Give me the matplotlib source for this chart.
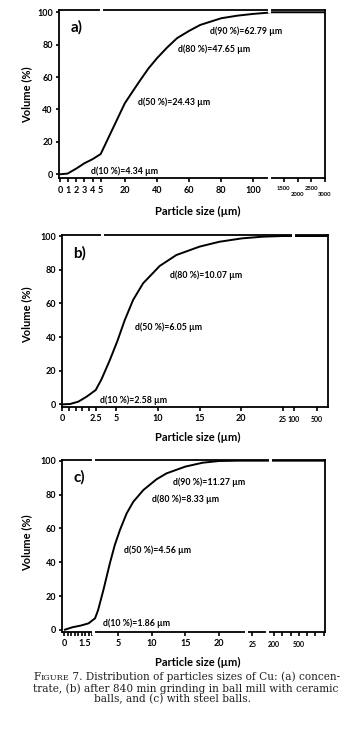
import numpy as np
import matplotlib.pyplot as plt

plt.rcParams["font.family"] = ["Lato", "DejaVu Sans"]
plt.rcParams["font.weight"] = "bold"

W, H = 353, 729

# ---- data (particle size in um, cumulative volume in %) ----
a_size = [0, 0.93, 2.06, 3.0, 4.0, 5.0, 13.1, 20, 24.4, 29.7, 34.8, 40, 46.3, 52.5,
          60, 67, 80, 90, 100, 110, 1000, 3000]
a_vol = [0, 0.4, 3.7, 6.8, 9.3, 12.5, 29.4, 43.8, 50.4, 58.2, 65.4, 71.6, 78.2, 84,
         88.5, 92.2, 96.3, 97.9, 99, 99.8, 100, 100]

b_size = [0, 0.58, 1.2, 1.83, 2.5, 3.2, 4.2, 5.1, 6.0, 7.0, 8.2, 10.2, 12.2, 15,
          17.4, 20.1, 22.6, 25, 100, 500, 1000]
b_vol = [0, 0.2, 1.6, 4.6, 8.5, 14.9, 26.3, 37.5, 50.1, 62, 71.9, 82.2, 88.7, 93.7,
         96.6, 98.6, 99.6, 100, 100, 100, 100]

c_size = [0, 0.6, 1.2, 1.75, 2.35, 2.7, 3.3, 4.04, 4.6, 5.25, 6.25, 7.25, 8.75, 10.7,
          12.2, 15, 17.6, 20, 23, 200, 818]
c_vol = [0, 1.6, 2.6, 3.9, 6.9, 11.8, 23.6, 39.4, 50.2, 59.1, 68.9, 75.8, 82.7, 89,
         92.5, 96.5, 98.8, 99.8, 100, 100, 100]

a_notes = ["d(90 %)=62.79 µm", "d(80 %)=47.65 µm", "d(50 %)=24.43 µm", "d(10 %)=4.34 µm"]
b_notes = ["d(80 %)=10.07 µm", "d(50 %)=6.05 µm", "d(10 %)=2.58 µm"]
c_notes = ["d(90 %)=11.27 µm", "d(80 %)=8.33 µm", "d(50 %)=4.56 µm", "d(10 %)=1.86 µm"]

a_ticks = [0, 1, 2, 3, 4, 5, 20, 40, 60, 80, 100]
a_far = [1500, 2000, 2500, 3000]
b_ticks = [0, 2.5, 5, 10, 15, 20]
b_minor = [0.5, 1, 1.5, 2]
b_far = [25, 100, 500]
c_ticks = [0, 1.5, 5, 10, 15, 20]
c_minor = [0.25, 0.5, 0.75, 1, 1.25, 1.75, 2, 300, 400, 600, 700, 800]
c_far = [25, 200, 500]

yticks = [0, 20, 40, 60, 80, 100]


def px(x, y):
    return x / W, 1 - y / H


def piecewise(vals, pos):
    return (lambda v: np.interp(v, vals, pos), lambda p: np.interp(p, pos, vals))


fig = plt.figure(figsize=(W / 100, H / 100), dpi=100)
bg = fig.add_axes([0, 0, 1, 1])
bg.axis("off")

panels = [
    # box (left, top, right, bottom) in px, scale breakpoints, xlim, ylim
    dict(box=(59, 10, 325, 178.3), vals=[-0.12, 0, 5, 110, 1000, 3000],
         pos=[0, 1, 41.7, 210.4, 211, 266], xlim=(-0.12, 3000), ylim=(-2.5, 101.4),
         x=a_size, y=a_vol, ticks=a_ticks, minor=[], far=a_far,
         far_dy=[10.5, 16, 10.5, 16], far_fs=4.2,
         notes=a_notes, note_xy=[(210, 31.7), (177.7, 49.3), (137.7, 102.7), (90.7, 171.7)],
         tag="a)", tag_xy=(71, 27), top_gaps=[5, 111], bot_gaps=[111],
         xlab_y=211, ylab_y=95),
    dict(box=(62.3, 235, 327.7, 406.7), vals=[0, 2.5, 25, 100, 500, 1000],
         pos=[0, 33.4, 220.4, 231.7, 254.4, 265.4], xlim=(0, 1000), ylim=(-1.4, 100.6),
         x=b_size, y=b_vol, ticks=b_ticks, minor=b_minor, far=b_far,
         far_dy=[12.5, 12.5, 12.5], far_fs=5,
         notes=b_notes, note_xy=[(170, 275), (135, 327.7), (100, 400)],
         tag="b)", tag_xy=(73, 253), top_gaps=[3.2, 95], bot_gaps=[],
         xlab_y=437, ylab_y=315),
    dict(box=(62.3, 460, 325, 632), vals=[-0.12, 0, 2, 5, 25, 200, 818],
         pos=[0, 1.7, 29.7, 56, 190, 211.7, 262.7], xlim=(-0.12, 818), ylim=(-1.2, 100.4),
         x=c_size, y=c_vol, ticks=c_ticks, minor=c_minor, far=c_far,
         far_dy=[12.5, 12.5, 12.5], far_fs=5,
         notes=c_notes, note_xy=[(173.3, 482.7), (151.7, 499.3), (124.3, 550), (103.3, 623.3)],
         tag="c)", tag_xy=(74, 477), top_gaps=[2.1, 165], bot_gaps=[2.1, 24, 140],
         xlab_y=662, ylab_y=543),
]

for p in panels:
    l, t, r, b = p["box"]
    ax = fig.add_axes([l / W, 1 - b / H, (r - l) / W, (b - t) / H])
    ax.set_xscale("function", functions=piecewise(p["vals"], p["pos"]))
    ax.plot(p["x"], p["y"], color="black", lw=1.4, solid_capstyle="butt")
    ax.set_xlim(p["xlim"])
    ax.set_ylim(p["ylim"])

    ax.set_xticks(p["ticks"])
    ax.set_xticklabels([f"{v:g}" for v in p["ticks"]])
    ax.set_xticks(p["minor"] + p["far"], minor=True)
    ax.set_yticks(yticks)
    ax.tick_params(axis="both", which="both", direction="out", width=1.2,
                   labelsize=6.5, colors="black")
    ax.tick_params(axis="x", which="major", length=3.2, pad=2)
    ax.tick_params(axis="x", which="minor", length=3.2)
    ax.tick_params(axis="y", length=2.5, pad=2)
    for s in ax.spines.values():
        s.set_linewidth(1.3)

    for v, dy in zip(p["far"], p["far_dy"]):
        ax.annotate(f"{v:g}", xy=(v, 0), xycoords=ax.get_xaxis_transform(),
                    xytext=(0, -dy), textcoords="offset pixels",
                    ha="center", va="center", fontsize=p["far_fs"])

    # axis break gaps on the frame
    for v in p["top_gaps"]:
        ax.plot([v], [1], marker="|", ms=5, mew=2.2, color="white",
                transform=ax.get_xaxis_transform(), clip_on=False, zorder=6)
    for v in p["bot_gaps"]:
        ax.plot([v], [0], marker="|", ms=5, mew=2.2, color="white",
                transform=ax.get_xaxis_transform(), clip_on=False, zorder=6)

    for txt, (nx, ny) in zip(p["notes"], p["note_xy"]):
        fig.text(*px(nx, ny), txt, ha="left", va="center", fontsize=6.3)
    fig.text(*px(*p["tag_xy"]), p["tag"], ha="left", va="center", fontsize=11)

    fig.text(*px(198, p["xlab_y"]), "Particle size (µm)", ha="center", va="center",
             fontsize=8)
    fig.text(*px(27, p["ylab_y"]), "Volume (%)", ha="center", va="center",
             rotation=90, fontsize=8)

# caption
serif = dict(family=["DejaVu Serif"], weight="normal", color="#222222")
t1 = bg.text(*px(33, 677.5), "F", ha="left", va="center", fontsize=7.6,
             transform=bg.transAxes, **serif)
t2 = bg.annotate("IGURE", xy=(1, 0), xycoords=t1, ha="left", va="bottom",
                 fontsize=5.9, **serif)
bg.annotate(" 7. Distribution of particles sizes of Cu: (a) concen-", xy=(1, 0),
            xycoords=t2, ha="left", va="bottom", fontsize=7.6, **serif)
bg.text(*px(33, 689), "trate, (b) after 840 min grinding in ball mill with ceramic",
        ha="left", va="center", fontsize=7.6, transform=bg.transAxes, **serif)
bg.text(*px(173, 699.5), "balls, and (c) with steel balls.", ha="center", va="center",
        fontsize=7.6, transform=bg.transAxes, **serif)

fig.savefig("out.png", dpi=100)
